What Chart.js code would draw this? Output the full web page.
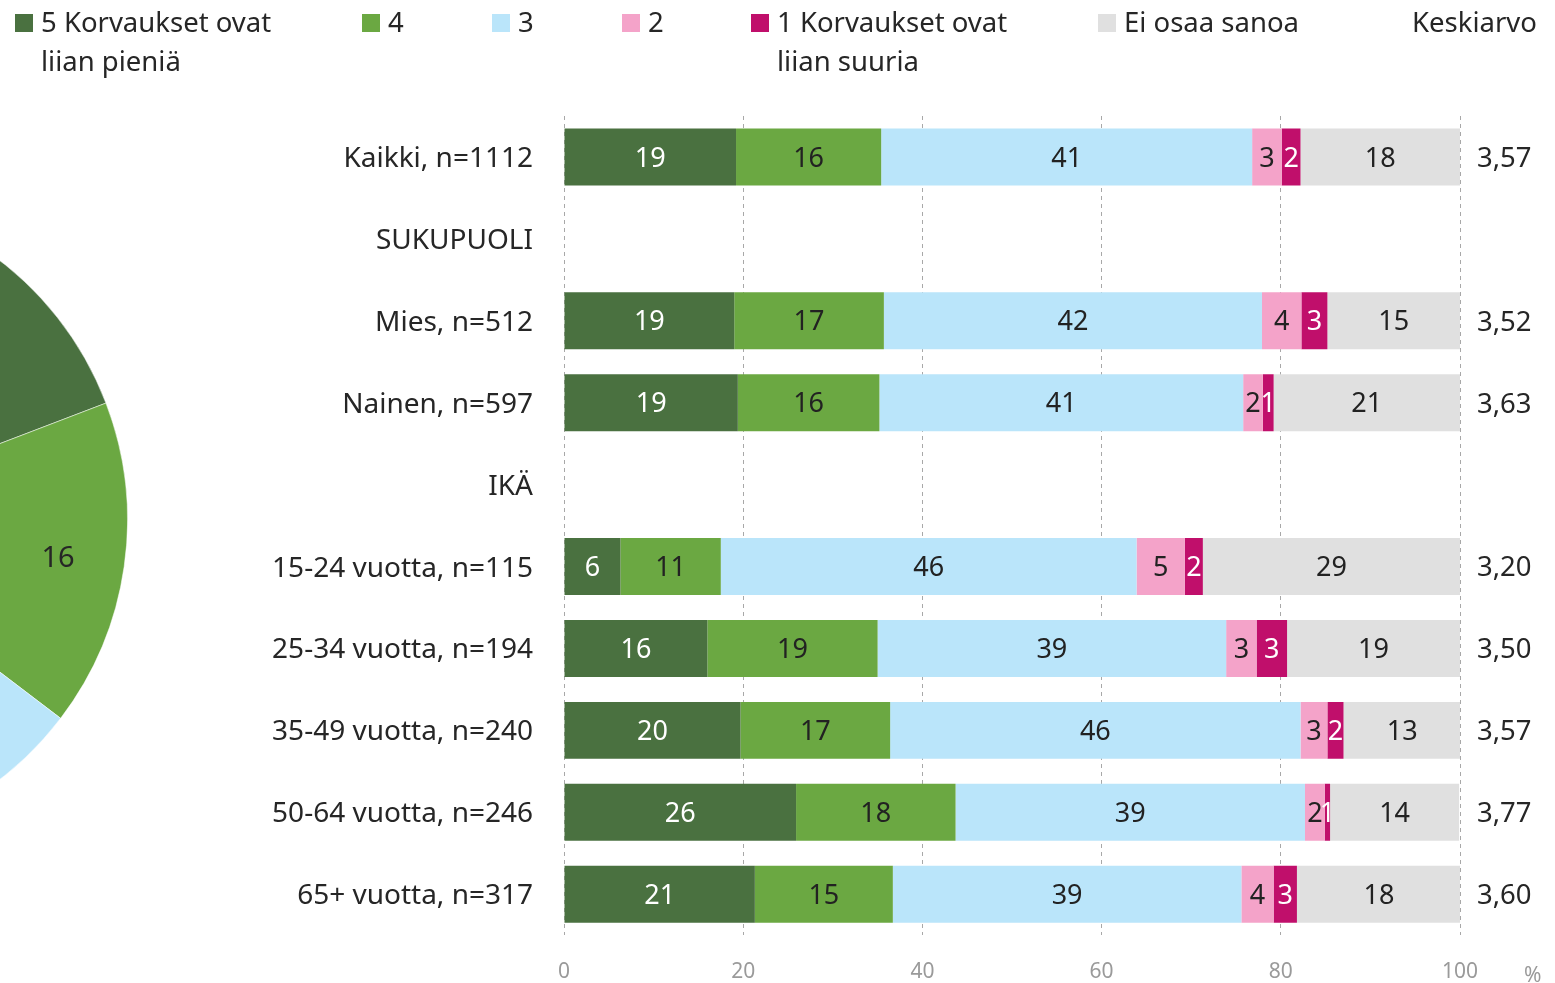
<!DOCTYPE html>
<html><head><meta charset="utf-8">
<script src="https://cdn.jsdelivr.net/npm/chart.js@4/dist/chart.umd.min.js"></script>
<style>
html,body{margin:0;padding:0;background:#fff;overflow:hidden;width:1555px;height:983px;position:relative;font-family:"Noto Sans",sans-serif;color:#262626}
canvas{position:absolute}
.lg{position:absolute;font-size:27.5px;line-height:39px;white-space:nowrap}
.sq{position:absolute;width:18px;height:18px}
</style></head><body>
<canvas id="pie" width="656" height="656" style="left:-528px;top:192px"></canvas>
<canvas id="main" width="1555" height="983" style="left:0;top:0"></canvas>
<div id="legend"></div>
<div class="lg" style="left:1524px;top:955px;font-size:21px;color:#999">%</div>
<script>
const categories = ["Kaikki, n=1112","SUKUPUOLI","Mies, n=512","Nainen, n=597","IKÄ","15-24 vuotta, n=115","25-34 vuotta, n=194","35-49 vuotta, n=240","50-64 vuotta, n=246","65+ vuotta, n=317"];
const seriesNames = ["5 Korvaukset ovat\nliian pieniä","4","3","2","1 Korvaukset ovat\nliian suuria","Ei osaa sanoa"];
const s5   = [19.2,null,19.0,19.4,null,6.3,16.0,19.7,25.9,21.3];
const s4   = [16.2,null,16.7,15.8,null,11.2,19.0,16.7,17.8,15.4];
const s3   = [41.4,null,42.2,40.6,null,46.4,38.9,45.8,39.0,38.9];
const s2   = [3.3,null,4.4,2.2,null,5.4,3.4,3.0,2.2,3.6];
const s1   = [2.1,null,2.9,1.2,null,2.0,3.4,1.8,0.6,2.6];
const sEos = [17.8,null,14.8,20.8,null,28.7,19.3,13.1,14.4,18.3];
const means = ["3,57","","3,52","3,63","","3,20","3,50","3,57","3,77","3,60"];
const pieValues = [19,16,41,3,2,18];
const xTicks = [0,20,40,60,80,100];
const meanHeader = "Keskiarvo";

const colors = ["#4A7140","#6BA842","#BAE5FA","#F4A3C9","#C00F6B","#E0E0E0"];
const labelColors = ["#fff","#222","#222","#222","#fff","#222"];
const FONT = "'Noto Sans', sans-serif";

// HTML legend
const legendX = [15,362,492,622,751,1098];
const lg = document.getElementById('legend');
seriesNames.forEach((n,i)=>{
  const sq = document.createElement('div'); sq.className='sq';
  sq.style.left=legendX[i]+'px'; sq.style.top='14px'; sq.style.background=colors[i];
  lg.appendChild(sq);
  const t = document.createElement('div'); t.className='lg';
  t.style.left=(legendX[i]+26)+'px'; t.style.top='2px';
  t.innerHTML = n.split('\n').join('<br>');
  lg.appendChild(t);
});
const kh = document.createElement('div'); kh.className='lg';
kh.style.left='1412px'; kh.style.top='2px'; kh.textContent=meanHeader; lg.appendChild(kh);

const seriesData=[s5,s4,s3,s2,s1,sEos];
const barLabels = {
  id:'barLabels',
  afterDatasetsDraw(chart){
    const ctx=chart.ctx; ctx.save();
    ctx.font="27px "+FONT; ctx.textAlign='center'; ctx.textBaseline='middle';
    chart.data.datasets.forEach((ds,di)=>{
      const meta=chart.getDatasetMeta(di);
      meta.data.forEach((el,i)=>{
        const v=ds.data[i]; if(v==null) return;
        ctx.fillStyle=labelColors[di];
        ctx.fillText(String(Math.round(v)), (el.x+el.base)/2, el.y+2);
      });
    });
    ctx.restore();
  }
};

new Chart(document.getElementById('main'),{
  type:'bar',
  data:{labels:categories,datasets:seriesData.map((d,i)=>({label:seriesNames[i],data:d,backgroundColor:colors[i],borderWidth:0,categoryPercentage:1,barPercentage:0.695}))},
  options:{
    responsive:false,animation:false,indexAxis:'y',
    layout:{padding:{top:116,left:0,right:0,bottom:0}},
    plugins:{legend:{display:false},tooltip:{enabled:false}},
    scales:{
      x:{stacked:true,min:0,max:100,afterBuildTicks:(s)=>{s.ticks=xTicks.map(v=>({value:v}));},
        afterFit:(s)=>{s.height=47;},
        border:{display:false,dash:[4,4]},
        grid:{color:'#A8A8A8',lineWidth:1,drawTicks:false},
        ticks:{color:'#9A9A9A',font:{size:21,family:FONT},padding:24}},
      y:{stacked:true,afterFit:(s)=>{s.width=564;},border:{display:false},grid:{display:false,drawTicks:false},
        ticks:{color:'#262626',font:{size:28,family:FONT},padding:31,labelOffset:2}},
      y2:{type:'category',labels:means,position:'right',afterFit:(s)=>{s.width=95;},border:{display:false},grid:{display:false,drawTicks:false},
        ticks:{color:'#262626',font:{size:27.5,family:FONT},padding:17,labelOffset:2}}
    }
  },
  plugins:[barLabels]
});

const pieLabels={
  id:'pieLabels',
  afterDatasetsDraw(chart){
    const ctx=chart.ctx; ctx.save();
    ctx.font="29px "+FONT; ctx.textAlign='center'; ctx.textBaseline='middle'; ctx.fillStyle='#262626';
    chart.getDatasetMeta(0).data.forEach((arc,i)=>{
      const a=(arc.startAngle+arc.endAngle)/2, r=arc.outerRadius*0.79;
      ctx.fillText(String(pieValues[i]), arc.x+r*Math.cos(a)+2, arc.y+r*Math.sin(a)+2);
    });
    ctx.restore();
  }
};
new Chart(document.getElementById('pie'),{
  type:'pie',
  data:{labels:seriesNames,datasets:[{data:pieValues,backgroundColor:colors,borderColor:'rgba(255,255,255,0.5)',borderWidth:1}]},
  options:{responsive:false,animation:false,layout:{padding:0},plugins:{legend:{display:false},tooltip:{enabled:false}}},
  plugins:[pieLabels]
});
</script>
</body></html>
